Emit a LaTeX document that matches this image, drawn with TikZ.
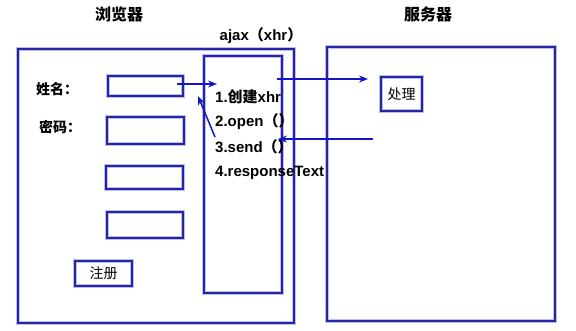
\documentclass[tikz,border=0pt]{standalone}
\usepackage{fontspec}
\setmainfont{Liberation Sans}
\newfontfamily\cjk{Noto Sans CJK SC}
\usetikzlibrary{arrows.meta}
\definecolor{boxblue}{RGB}{36,36,165}
\definecolor{glow}{RGB}{190,190,235}
\definecolor{arrblue}{RGB}{20,20,200}
\newcommand\zh[1]{{\cjk #1}}
\begin{document}
\begin{tikzpicture}[x=1pt,y=-1pt,
  frame/.style={draw=boxblue, line width=1.6pt, rectangle, inner sep=0pt,
    preaction={draw=glow, line width=3.6pt}},
  lbl/.style={inner sep=0pt, font=\cjk\fontsize{14}{14}\selectfont},
  steptxt/.style={inner sep=0pt, anchor=west, font=\bfseries\fontsize{15}{15}\selectfont},
  title/.style={inner sep=0pt, font=\cjk\bfseries\fontsize{16}{16}\selectfont},
  conn/.style={draw=arrblue, line width=1.5pt, -{Stealth[length=9pt,width=7pt]}}]
\useasboundingbox (0,0) rectangle (576,330);
\fill[white] (0,0) rectangle (576,330);

% titles
\node[title] (tb) at (119,14) {浏览器};
\node[title] (ts) at (428,14) {服务器};
\node[steptxt, anchor=center] (tajax) at (261,36) {ajax\zh{（}xhr\zh{）}};

% frames
\node[frame, minimum width=276, minimum height=274] (browser) at (156,186) {};
\node[frame, minimum width=78, minimum height=237] (ajax) at (243,174.5) {};
\node[frame, minimum width=228, minimum height=274] (server) at (441,184) {};

% inputs
\node[frame, minimum width=75, minimum height=20] (in1) at (145.5,86) {};
\node[frame, minimum width=77, minimum height=27] (in2) at (145.5,130.5) {};
\node[frame, minimum width=77, minimum height=23] (in3) at (144.5,177.5) {};
\node[frame, minimum width=76, minimum height=26] (in4) at (145,225) {};
\node[frame, minimum width=57, minimum height=25, lbl] (btn) at (103.5,273.5) {注册};
\node[frame, minimum width=41, minimum height=34, lbl] (proc) at (401.5,94) {处理};

% labels
\node[lbl, anchor=west, font=\cjk\bfseries\fontsize{14}{14}\selectfont] (lname) at (36,89) {姓名：};
\node[lbl, anchor=west, font=\cjk\bfseries\fontsize{14}{14}\selectfont] (lpwd) at (39,127) {密码：};

% steps
\node[steptxt] (s1) at (215,97) {1.\zh{创建}xhr};
\node[steptxt] (s2) at (215,122) {2.open\zh{（）}};
\node[steptxt] (s3) at (215,147) {3.send\zh{（）}};
\node[steptxt] (s4) at (215,173) {4.responseText};

% connector ends
\coordinate (a1s) at (177,84);
\coordinate (a1e) at (217,84);
\coordinate (a2s) at (277,79);
\coordinate (a2e) at (368,79);
\coordinate (a3s) at (373,139);
\coordinate (a3e) at (278,139);
\coordinate (a4s) at (215,137);
\coordinate (a4e) at (198,96);

\draw[conn] (a1s) -- (a1e);
\draw[conn] (a2s) -- (a2e);
\draw[conn] (a3s) -- (a3e);
\draw[conn] (a4s) -- (a4e);
\end{tikzpicture}
\end{document}
